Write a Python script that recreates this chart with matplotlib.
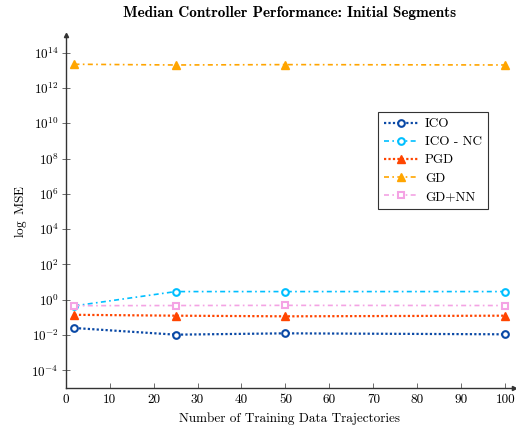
import matplotlib
matplotlib.use("Agg")
import matplotlib.pyplot as plt

# data (median MSE, log scale)
trajectories = [2, 25, 50, 100]
ico = [0.025, 0.0105, 0.0125, 0.011]
ico_nc = [0.45, 2.9, 2.9, 2.9]
pgd = [0.14, 0.125, 0.115, 0.125]
gd = [2.2e13, 2.0e13, 2.1e13, 2.0e13]
gd_nn = [0.46, 0.47, 0.48, 0.47]

series_names = ['ICO', 'ICO - NC', 'PGD', 'GD', 'GD+NN']
x_ticks = [0, 10, 20, 30, 40, 50, 60, 70, 80, 90, 100]
y_exps = [-4, -2, 0, 2, 4, 6, 8, 10, 12, 14]

plt.rcParams['font.family'] = 'serif'
plt.rcParams['font.serif'] = ['cmr10']
plt.rcParams['mathtext.fontset'] = 'cm'
plt.rcParams['axes.unicode_minus'] = False

fig = plt.figure(figsize=(5.16, 4.3), dpi=100)
ax = fig.add_axes([0.1273, 0.0977, 0.8688, 0.8209])

dotted = (0, (1, 1))
dashdot = (0, (3, 2, 1, 2))

ax.plot(trajectories, ico, color='#0a49a6', ls=dotted, lw=1.6, marker='o',
        ms=4.8, mfc='white', mew=1.5, label=series_names[0])
ax.plot(trajectories, ico_nc, color='#00bfff', ls=dashdot, lw=1.2, marker='o',
        ms=4.8, mfc='white', mew=1.5, label=series_names[1])
ax.plot(trajectories, pgd, color='#ff4500', ls=dotted, lw=1.6, marker='^',
        ms=5.5, label=series_names[2])
ax.plot(trajectories, gd, color='#ffa500', ls=dashdot, lw=1.2, marker='^',
        ms=5.5, label=series_names[3])
ax.plot(trajectories, gd_nn, color='#f4a3e4', ls=dashdot, lw=1.2, marker='s',
        ms=5, mfc='white', mew=1.5, label=series_names[4])

ax.set_yscale('log')
ax.set_xlim(0, 102)
ax.set_ylim(1e-5, 1e15)
ax.set_xticks(x_ticks)
ax.set_xticklabels([str(t) for t in x_ticks], fontsize=9.5)
ax.set_yticks([10.0 ** e for e in y_exps])
ax.set_yticklabels([r'$10^{%d}$' % e for e in y_exps], fontsize=9.5)
ax.minorticks_off()
ax.tick_params(axis='x', direction='in', length=3.5, width=0.6, color='#555555', pad=4)
ax.tick_params(axis='y', direction='inout', length=6, width=0.6, color='#555555', pad=2)

for side in ['top', 'right']:
    ax.spines[side].set_visible(False)
for side in ['left', 'bottom']:
    ax.spines[side].set_linewidth(1.0)
    ax.spines[side].set_color('#333333')
# axis arrows
ax.plot(1, 0, '>', color='#333333', ms=3, transform=ax.transAxes, clip_on=False)
ax.plot(0, 1, '^', color='#333333', ms=3, transform=ax.transAxes, clip_on=False)

ax.set_xlabel('Number of Training Data Trajectories', fontsize=9.5, labelpad=5)
ax.set_ylabel(r'$\log$ MSE', fontsize=9.5, labelpad=2)
ax.set_title('Median Controller Performance: Initial Segments',
             fontfamily='cmb10', fontsize=11, pad=13)

leg = ax.legend(loc='upper right', bbox_to_anchor=(0.942, 0.782), borderaxespad=0,
                fancybox=False, framealpha=1, edgecolor='#333333', fontsize=9.5,
                handlelength=2.6, handletextpad=0.5, labelspacing=0.45,
                borderpad=0.45)
leg.get_frame().set_linewidth(0.8)

fig.savefig('out.png', dpi=100)
